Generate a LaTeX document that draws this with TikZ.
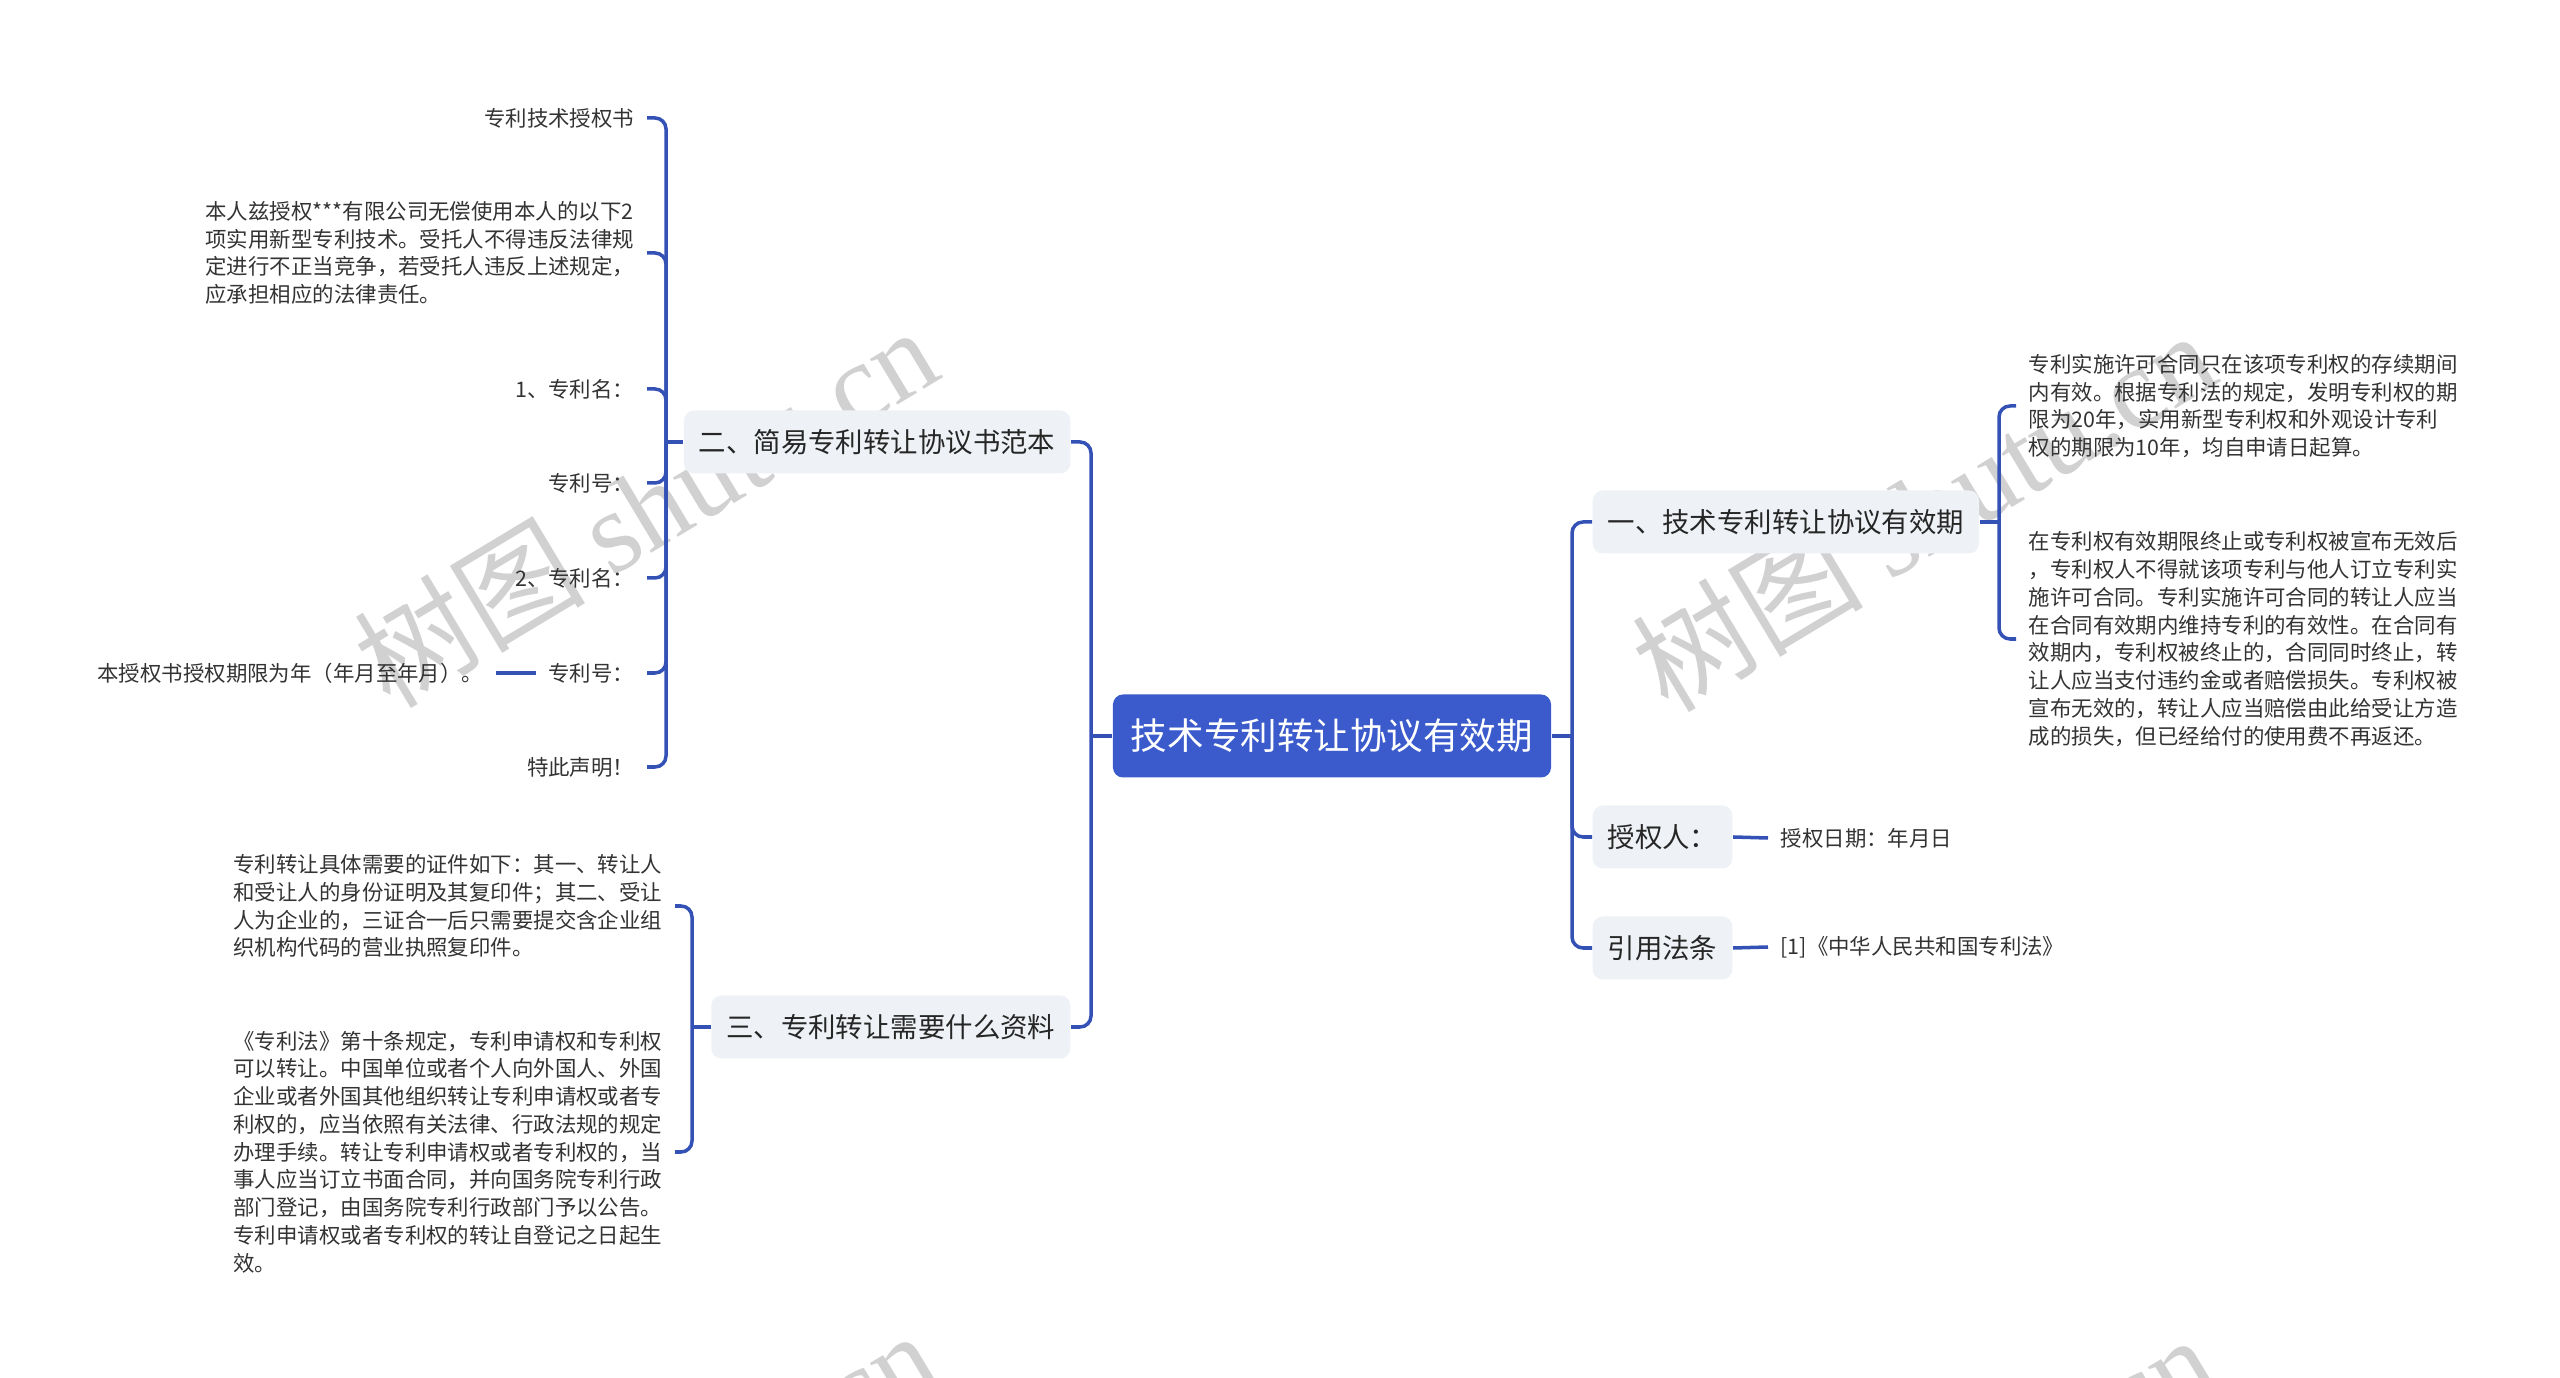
\documentclass[tikz,border=0pt]{standalone}
\usepackage{fontspec}
\usepackage{tikz}
\usepackage{xcolor}
\newfontfamily\cjk{Noto Sans CJK SC}
\newfontfamily\wmserif{Liberation Serif}

\definecolor{rootblue}{RGB}{59,91,204}
\definecolor{linkblue}{RGB}{52,82,182}
\definecolor{branchgray}{RGB}{238,241,245}
\definecolor{leaftext}{RGB}{51,51,51}

\begin{document}
\begin{tikzpicture}[
            root/.style = {fill=rootblue, text=white, rounded corners=0.1cm,
                inner xsep=0.18cm, minimum height=0.83cm,
                font={\cjk\fontsize{10.4}{12}\selectfont}}, % central topic
            branch/.style = {fill=branchgray, text=black!85, rounded corners=0.1cm,
                inner xsep=0.15cm, minimum height=0.63cm,
                font={\cjk\fontsize{7.8}{9}\selectfont}},
            leaf/.style = {text=leaftext, align=left, inner xsep=0.12cm,
                font={\cjk\fontsize{6.1}{7.9}\selectfont}},
            link/.style = {draw=linkblue, line width=1pt},
            elbow/.style = {link, rounded corners=0.11cm},
            wmark/.style = {text=black!18, rotate=31,
                font={\fontsize{33}{36}\selectfont}}
        ]
\useasboundingbox (0,0) rectangle (25.6,-13.78);

% watermark
\begin{scope}
\clip (0,0) rectangle (25.6,-13.78);
\node[wmark] (W1) at (6.45,-5.06) {\cjk 树图 \wmserif shutu.cn};
\node[wmark] (W2) at (19.23,-5.10) {\cjk 树图 \wmserif shutu.cn};
\node[wmark] (W3) at (6.45,-15.10) {\cjk 树图 \wmserif shutu.cn};
\node[wmark] (W4) at (19.23,-15.14) {\cjk 树图 \wmserif shutu.cn};
\end{scope}

\node[root] (R) at (13.32,-7.36) {技术专利转让协议有效期};

% right side
\node[branch, anchor=west] (B1) at (15.92,-5.22) {一、技术专利转让协议有效期};
\node[branch, anchor=west] (B4) at (15.92,-8.37) {授权人：};
\node[branch, anchor=west] (B5) at (15.92,-9.48) {引用法条};

\node[leaf, anchor=west] (T1) at (20.16,-4.06) {专利实施许可合同只在该项专利权的存续期间\\内有效。根据专利法的规定，发明专利权的期\\限为20年，实用新型专利权和外观设计专利\\权的期限为10年，均自申请日起算。};
\node[leaf, anchor=west] (T2) at (20.16,-6.39) {在专利权有效期限终止或专利权被宣布无效后\\，专利权人不得就该项专利与他人订立专利实\\施许可合同。专利实施许可合同的转让人应当\\在合同有效期内维持专利的有效性。在合同有\\效期内，专利权被终止的，合同同时终止，转\\让人应当支付违约金或者赔偿损失。专利权被\\宣布无效的，转让人应当赔偿由此给受让方造\\成的损失，但已经给付的使用费不再返还。};
\node[leaf, anchor=west] (D1) at (17.68,-8.38) {授权日期：年月日};
\node[leaf, anchor=west] (L1) at (17.68,-9.47) {[1]《中华人民共和国专利法》};

% left side
\node[branch, anchor=east] (B2) at (10.71,-4.42) {二、简易专利转让协议书范本};
\node[branch, anchor=east] (B3) at (10.71,-10.27) {三、专利转让需要什么资料};

\node[leaf, anchor=east] (A1) at (6.47,-1.18) {专利技术授权书};
\node[leaf, anchor=east] (A2) at (6.47,-2.53) {本人兹授权***有限公司无偿使用本人的以下2\\项实用新型专利技术。受托人不得违反法律规\\定进行不正当竞争，若受托人违反上述规定，\\应承担相应的法律责任。};
\node[leaf, anchor=east] (A3) at (6.47,-3.89) {1、专利名：};
\node[leaf, anchor=east] (A4) at (6.47,-4.83) {专利号：};
\node[leaf, anchor=east] (A5) at (6.47,-5.78) {2、专利名：};
\node[leaf, anchor=east] (A6) at (6.47,-6.73) {专利号：};
\node[leaf, anchor=east] (A7) at (6.47,-7.67) {特此声明！};
\node[leaf, anchor=east] (A8) at (4.96,-6.73) {本授权书授权期限为年（年月至年月）。};

\node[leaf, anchor=east] (C1) at (6.75,-9.06) {专利转让具体需要的证件如下：其一、转让人\\和受让人的身份证明及其复印件；其二、受让\\人为企业的，三证合一后只需要提交含企业组\\织机构代码的营业执照复印件。};
\node[leaf, anchor=east] (C2) at (6.75,-11.52) {《专利法》第十条规定，专利申请权和专利权\\可以转让。中国单位或者个人向外国人、外国\\企业或者外国其他组织转让专利申请权或者专\\利权的，应当依照有关法律、行政法规的规定\\办理手续。转让专利申请权或者专利权的，当\\事人应当订立书面合同，并向国务院专利行政\\部门登记，由国务院专利行政部门予以公告。\\专利申请权或者专利权的转让自登记之日起生\\效。};

% fork points
\coordinate (rl) at (10.91,-7.36);
\coordinate (rr) at (15.72,-7.36);
\coordinate (b1) at (19.99,-5.22);
\coordinate (b2) at (6.66,-4.42);
\coordinate (b3) at (6.92,-10.27);

\path[link] (R.west) -- (rl);
\path[link] (R.east) -- (rr);
\path[link] (B1.east) -- (b1);
\path[link] (B2.west) -- (b2);
\path[link] (B3.west) -- (b3);

\foreach \b in {B1,B4,B5} \path[elbow] (rr) |- (\b.west);
\foreach \b in {B2,B3} \path[elbow] (rl) |- (\b.east);
\foreach \t in {T1,T2} \path[elbow] (b1) |- (\t.west);
\foreach \a in {A1,A2,A3,A4,A5,A6,A7} \path[elbow] (b2) |- (\a.east);
\foreach \c in {C1,C2} \path[elbow] (b3) |- (\c.east);

\path[link] (B4.east) -- (D1.west);
\path[link] (B5.east) -- (L1.west);
\path[link] (A6.west) -- (A8.east);
\end{tikzpicture}
\end{document}
